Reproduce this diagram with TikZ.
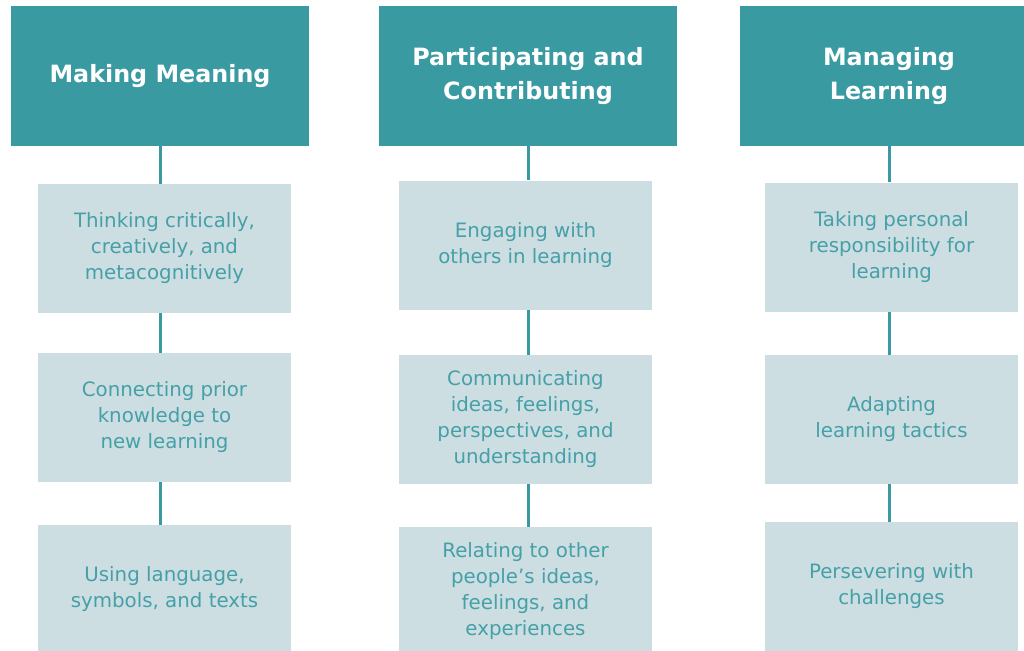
\documentclass[tikz,border=0pt]{standalone}
\usepackage{fontspec}
\setmainfont{DejaVu Sans}
\usetikzlibrary{positioning}
\definecolor{headteal}{HTML}{3A9AA2}
\definecolor{boxgrey}{HTML}{CDDEE2}
\definecolor{textteal}{HTML}{45A0A8}
\tikzset{
  headbox/.style={fill=headteal, text=white, font=\fontsize{23.8}{34}\selectfont\bfseries,
    minimum width=298pt, minimum height=140pt, align=center, inner sep=0pt},
  subbox/.style={fill=boxgrey, text=textteal, font=\fontsize{19.8}{26}\selectfont,
    minimum width=253pt, minimum height=129pt, align=center, inner sep=0pt},
  link/.style={draw=headteal, line width=3pt}
}

\begin{document}
\begin{tikzpicture}[x=1pt, y=-1pt]
		%%%%% START %%%%%
		\clip (0, 0) rectangle (1024, 650);
		\fill[white] (0, 0) rectangle (1024, 650);
		
		% headers
		\node[headbox] (mm) at (160, 76) {Making Meaning};
		\node[headbox] (pc) at (528, 76) {Participating and\\Contributing};
		\node[headbox] (ml) at (889, 76) {Managing\\Learning};
		
		% making meaning
		\node[subbox] (mma) at (164.5, 248.5) {Thinking critically,\\creatively, and\\metacognitively};
		\node[subbox] (mmb) at (164.5, 417.5) {Connecting prior\\knowledge to\\new learning};
		\node[subbox] (mmc) at (164.5, 589.5) {Using language,\\symbols, and texts};
		
		% participating and contributing
		\node[subbox] (pca) at (525.5, 245) {Engaging with\\others in learning};
		\node[subbox] (pcb) at (525.5, 419.5) {Communicating\\ideas, feelings,\\perspectives, and\\understanding};
		\node[subbox] (pcc) at (525.5, 591.5) {Relating to other\\people’s ideas,\\feelings, and\\experiences};
		
		% managing learning
		\node[subbox] (mla) at (891.5, 247) {Taking personal\\responsibility for\\learning};
		\node[subbox] (mlb) at (891.5, 419.5) {Adapting\\learning tactics};
		\node[subbox] (mlc) at (891.5, 586.5) {Persevering with\\challenges};
		
		% connectors
		\draw[link] (mm.south) -- (mm.south |- mma.north);
		\draw[link] (mm.south |- mma.south) -- (mm.south |- mmb.north);
		\draw[link] (mm.south |- mmb.south) -- (mm.south |- mmc.north);
		\draw[link] (pc.south) -- (pc.south |- pca.north);
		\draw[link] (pc.south |- pca.south) -- (pc.south |- pcb.north);
		\draw[link] (pc.south |- pcb.south) -- (pc.south |- pcc.north);
		\draw[link] (ml.south) -- (ml.south |- mla.north);
		\draw[link] (ml.south |- mla.south) -- (ml.south |- mlb.north);
		\draw[link] (ml.south |- mlb.south) -- (ml.south |- mlc.north);
		%%%%% END %%%%%
\end{tikzpicture}
\end{document}
